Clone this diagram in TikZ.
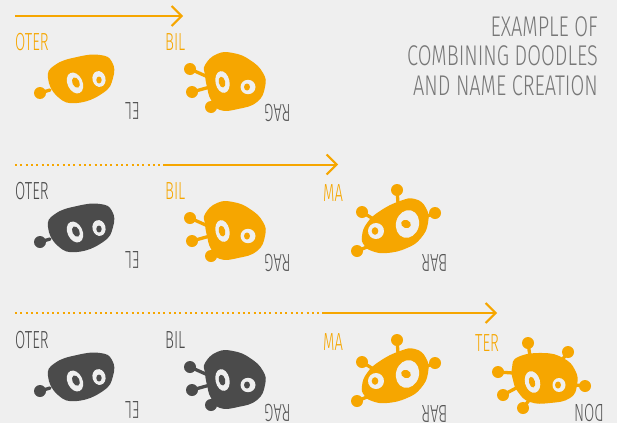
\documentclass[tikz,border=0pt]{standalone}
\usepackage{fontspec}
\usetikzlibrary{arrows.meta,positioning}
\newfontfamily\doodlefont{Fira Sans Light}[FakeStretch=0.6]
\newfontfamily\captionfont{Fira Sans Light}[FakeStretch=0.7]
\definecolor{Amber}{HTML}{F6A600}
\definecolor{Ink}{HTML}{4B4B4B}
\definecolor{Paper}{HTML}{EFEFEF}
\definecolor{Muted}{HTML}{555555}
\definecolor{Caption}{HTML}{777777}

\tikzset{
  stalk/.style={line width=3.3pt,line cap=round},
  % one feeler
  pics/blobone/.style={code={
    \draw[stalk,#1] (-40,14) -- (-30,11);
    \fill[#1] (-40,14) circle[radius=6];
    \fill[#1] plot[smooth cycle,tension=0.8] coordinates {(-32,-1) (-25,-14) (-3,-22) (20,-24) (32,-17) (33,-1) (23,14) (-3,24) (-22,18)};
    \fill[Paper,rotate around={25:(-5,4)}] (-5,4) ellipse[x radius=7.5,y radius=11];
    \fill[#1,rotate around={25:(-5,4)}] (-4,4) ellipse[x radius=3.5,y radius=5.5];
    \fill[Paper,rotate around={15:(19,0)}] (19,0) ellipse[x radius=6.5,y radius=8];
    \fill[#1] (19,1) ellipse[x radius=2.7,y radius=3.5];
  }},
  % three feelers
  pics/blobthree/.style={code={
    \draw[stalk,#1] (-45,-16) -- (-27,-8) (-43,7) -- (-25,2) (-24,22) -- (-17,13);
    \foreach \p in {(-45,-16),(-43,7),(-24,22)} \fill[#1] \p circle[radius=6];
    \fill[#1] plot[smooth cycle,tension=0.8] coordinates {(-30,-20) (-18,-31) (-2,-32) (15,-25) (28,-12) (30,2) (22,17) (3,24) (-15,25) (-24,15) (-28,2) (-30,-10)};
    \fill[Paper,rotate around={12:(-12.5,-3)}] (-12.5,-3) ellipse[x radius=7,y radius=11];
    \fill[#1,rotate around={12:(-12.5,-3)}] (-13,-3) ellipse[x radius=3.2,y radius=5.5];
    \fill[Paper] (13,2) ellipse[x radius=7.5,y radius=7.2];
    \fill[#1] (12,2) ellipse[x radius=3,y radius=3.5];
  }},
  % four feelers
  pics/blobfour/.style={code={
    \draw[stalk,#1] (2,-38) -- (3,-25) (-33,-16) -- (-20,-8) (40,-15) -- (30,-11) (-38,23) -- (-23,17);
    \foreach \p in {(2,-38),(-33,-16),(40,-15),(-38,23)} \fill[#1] \p circle[radius=6];
    \fill[#1] plot[smooth cycle,tension=0.8] coordinates {(-33,8) (-28,-5) (-15,-17) (5,-27) (20,-29) (31,-20) (33,-5) (26,10) (12,20) (-8,25) (-23,23) (-31,17)};
    \fill[Paper,rotate around={20:(-19,3)}] (-19,3) ellipse[x radius=8,y radius=8];
    \fill[#1] (-20,3) ellipse[x radius=3.3,y radius=3.8];
    \fill[Paper,rotate around={-15:(12.5,-4)}] (12.5,-4) ellipse[x radius=11.5,y radius=14];
    \fill[#1,rotate around={-20:(11,-4)}] (11,-4) ellipse[x radius=5,y radius=4];
  }},
  % six feelers
  pics/blobsix/.style={code={
    \draw[stalk,#1] (-17,-35) -- (-15,-22) (23,-26) -- (17,-18) (-47,-6) -- (-32,-5)
      (40,8) -- (30,7) (-42,17) -- (-27,9) (-22,30) -- (-15,21);
    \foreach \p in {(-17,-35),(23,-26),(-47,-6),(40,8),(-42,17),(-22,30)} \fill[#1] \p circle[radius=6];
    \fill[#1] plot[smooth cycle,tension=0.8] coordinates {(-33,-10) (-27,-21) (-2,-25) (18,-20) (30,-8) (32,7) (25,20) (5,25) (-15,24) (-27,14) (-32,2)};
    \fill[Paper,rotate around={15:(-12.5,4)}] (-12.5,4) ellipse[x radius=7.5,y radius=11];
    \fill[#1,rotate around={15:(-12.5,4)}] (-13,4) ellipse[x radius=3,y radius=5.5];
    \fill[Paper] (14,7) ellipse[x radius=6.5,y radius=7];
    \fill[#1] (13,7) ellipse[x radius=3,y radius=3.5];
  }},
  syl/.style={font=\doodlefont\fontsize{24.7}{28}\selectfont,inner sep=0pt,anchor=base west},
  hot/.style={syl,text=Amber},
  cold/.style={syl,text=Ink},
  tag/.style={font=\doodlefont\fontsize{24.7}{28}\selectfont,inner sep=0pt,text=Muted,rotate=180},
  flow/.style={-{Straight Barb[length=10pt,width=20pt]},line width=2pt,draw=Amber},
  trail/.style={line width=2pt,draw=Amber,dash pattern=on 2pt off 3.3pt}
}

\begin{document}
\begin{tikzpicture}[x=1pt,y=-1pt]
  \fill[Paper] (0,0) rectangle (617,423);

  \node[font=\captionfont\fontsize{28.5}{29.8}\selectfont,text=Caption,align=right,inner sep=0pt,anchor=north east]
    (title) at (598,16) {EXAMPLE OF\\COMBINING DOODLES\\AND NAME CREATION};

  % first row
  \coordinate (s1) at (15,16); \coordinate (e1) at (183,16);
  \draw[flow] (s1) -- (e1);
  \node[hot] (o1) at (15,50) {OTER};
  \node[hot] (b1) at (165,50) {BIL};
  \pic at (80,79) {blobone=Amber};
  \pic at (235,85) {blobthree=Amber};
  \node[tag] (el1) at (132.5,111) {EL};
  \node[tag] (rag1) at (277.5,112.5) {RAG};

  % second row
  \coordinate (s2) at (15,164.5); \coordinate (m2) at (164,164.5); \coordinate (e2) at (338,164.5);
  \draw[trail] (s2) -- (m2);
  \draw[flow] (m2) -- (e2);
  \node[cold] (o2) at (15,199) {OTER};
  \node[hot] (b2) at (165,199) {BIL};
  \node[hot] (ma2) at (323,201) {MA};
  \pic at (80,228) {blobone=Ink};
  \pic at (235,234) {blobthree=Amber};
  \pic at (395,228) {blobfour=Amber};
  \node[tag] (el2) at (132.5,260) {EL};
  \node[tag] (rag2) at (277.5,262.5) {RAG};
  \node[tag] (bar2) at (434.5,262.5) {BAR};

  % third row
  \coordinate (s3) at (15,313); \coordinate (m3) at (323,313); \coordinate (e3) at (497,313);
  \draw[trail] (s3) -- (m3);
  \draw[flow] (m3) -- (e3);
  \node[cold] (o3) at (15,348) {OTER};
  \node[cold] (b3) at (165,348) {BIL};
  \node[hot] (ma3) at (323,350) {MA};
  \node[hot] (t3) at (475,351) {TER};
  \pic at (80,377) {blobone=Ink};
  \pic at (235,383) {blobthree=Ink};
  \pic at (395,378) {blobfour=Amber};
  \pic at (545,378) {blobsix=Amber};
  \node[tag] (el3) at (132.5,410) {EL};
  \node[tag] (rag3) at (277.5,412.5) {RAG};
  \node[tag] (bar3) at (434.5,413.5) {BAR};
  \node[tag] (don3) at (589,413) {DON};
\end{tikzpicture}
\end{document}
